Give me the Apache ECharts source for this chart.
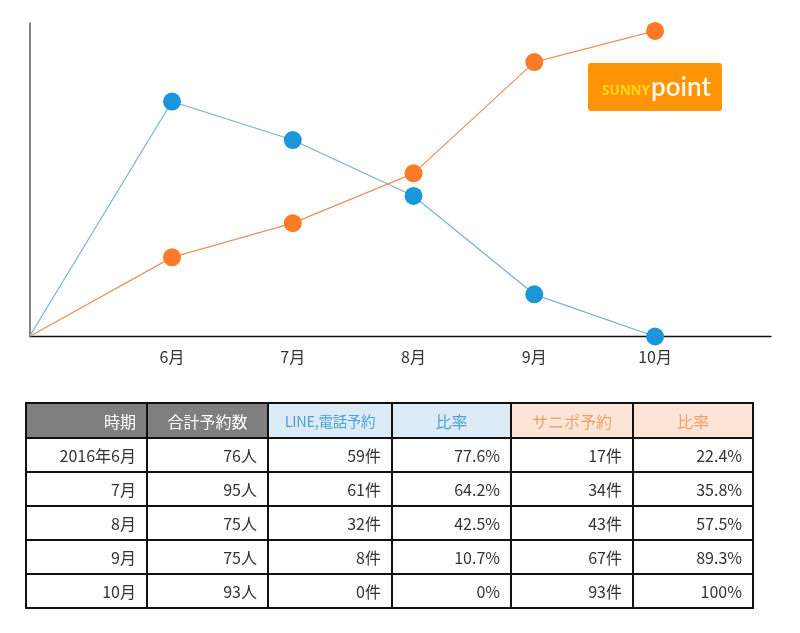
<!DOCTYPE html>
<html>
<head>
<meta charset="utf-8">
<script src="https://cdn.jsdelivr.net/npm/echarts@6/dist/echarts.min.js"></script>
<style>
  html, body { margin:0; padding:0; background:#fff; }
  #chart { position:absolute; left:0; top:0; width:800px; height:633px; }
  #tbl { position:absolute; left:25px; top:402px; border-collapse:collapse; font-family:"Noto Sans CJK JP","Noto Sans",sans-serif; font-size:16px; color:#333; }
  #tbl td, #tbl th { border:2px solid #111; height:31px; padding:0 10px; font-weight:normal; box-sizing:border-box; }
  #tbl td { text-align:right; }
</style>
</head>
<body>
<div id="chart"></div>
<table id="tbl"></table>
<script>
// ---- data ----
const months = [6, 7, 8, 9, 10];
const axisStart = 4.82;           // x value at the axis origin
const axisEnd = 10.96;
const lineRatioChart = [76.9, 64.3, 46.0, 13.8, 0];    // LINE,電話予約 比率 (as drawn)
const sunnyRatioChart = [25.9, 37.1, 53.4, 89.8, 100]; // サニポ予約 比率 (as drawn)

const headers = ['時期', '合計予約数', 'LINE,電話予約', '比率', 'サニポ予約', '比率'];
const periods = ['2016年6月', '7月', '8月', '9月', '10月'];
const totals = ['76人', '95人', '75人', '75人', '93人'];
const lineCounts = ['59件', '61件', '32件', '8件', '0件'];
const lineRatios = ['77.6%', '64.2%', '42.5%', '10.7%', '0%'];
const sunnyCounts = ['17件', '34件', '43件', '67件', '93件'];
const sunnyRatios = ['22.4%', '35.8%', '57.5%', '89.3%', '100%'];

// ---- chart ----
function buildData(vals) {
  const d = [{ value: [axisStart, 0], symbol: 'none' }];
  months.forEach((m, i) => d.push([m, vals[i]]));
  return d;
}
const chart = echarts.init(document.getElementById('chart'), null, { renderer: 'canvas' });
chart.setOption({
  animation: false,
  grid: { left: 29.5, right: 29, top: 23, bottom: 296.5, containLabel: false },
  xAxis: {
    type: 'value', min: axisStart, max: axisEnd,
    axisLine: { show: true, onZero: false, lineStyle: { color: '#111', width: 1.3 } },
    axisTick: { show: false },
    splitLine: { show: false },
    axisLabel: {
      customValues: months, formatter: v => v + '月',
      color: '#333', fontSize: 16, margin: 12,
      fontFamily: '"Noto Sans CJK JP", sans-serif'
    }
  },
  yAxis: {
    type: 'value', min: 0, max: 102.6,
    axisLine: { show: true, lineStyle: { color: '#666', width: 1.6 } },
    axisTick: { show: false }, axisLabel: { show: false }, splitLine: { show: false }
  },
  series: [
    {
      type: 'line', name: 'LINE,電話予約', data: buildData(lineRatioChart),
      symbol: 'circle', symbolSize: 18, showAllSymbol: true,
      lineStyle: { color: '#7ab0d2', width: 1.2 },
      itemStyle: { color: '#1b96d8' }, z: 3
    },
    {
      type: 'line', name: 'サニポ予約', data: buildData(sunnyRatioChart),
      symbol: 'circle', symbolSize: 18, showAllSymbol: true,
      lineStyle: { color: '#e9925c', width: 1.2 },
      itemStyle: { color: '#fd7b27' }, z: 2
    }
  ],
  graphic: [
    {
      type: 'group', left: 588, top: 63,
      children: [
        { type: 'rect', shape: { x: 0, y: 0, width: 134, height: 48, r: 3 }, style: { fill: '#ff9506' } },
        {
          type: 'text', x: 14, y: 25,
          style: {
            text: '{a|SUNNY}{b|point}', verticalAlign: 'middle',
            rich: {
              a: { fill: '#ffd81a', fontSize: 13.5, fontWeight: 'bold', fontFamily: '"Open Sans", sans-serif', padding: [7, 1, 0, 0] },
              b: { fill: '#fff8ec', fontSize: 26, fontWeight: 600, fontFamily: 'Lato, sans-serif' }
            }
          }
        }
      ]
    }
  ]
});

// ---- table ----
const tbl = document.getElementById('tbl');
const colW = [121, 121, 124, 119, 122, 120];
const headStyles = [
  { bg: '#7f7f7f', fg: '#fff', align: 'right' },
  { bg: '#7f7f7f', fg: '#fff', align: 'center' },
  { bg: '#ddebf7', fg: '#4ba3d9', align: 'center' },
  { bg: '#ddebf7', fg: '#4ba3d9', align: 'center' },
  { bg: '#fce4d6', fg: '#f2a066', align: 'center' },
  { bg: '#fce4d6', fg: '#f2a066', align: 'center' }
];
let html = '<tr>';
headers.forEach((h, i) => {
  const s = headStyles[i];
  html += `<th style="width:${colW[i]}px;height:35px;background:${s.bg};color:${s.fg};text-align:${s.align};${i===2?'font-size:14.5px;letter-spacing:-0.3px;padding:0 4px;':''}">${h}</th>`;
});
html += '</tr>';
periods.forEach((p, r) => {
  const row = [p, totals[r], lineCounts[r], lineRatios[r], sunnyCounts[r], sunnyRatios[r]];
  html += '<tr>' + row.map(c => `<td style="height:34px">${c}</td>`).join('') + '</tr>';
});
tbl.innerHTML = html;
</script>
</body>
</html>
